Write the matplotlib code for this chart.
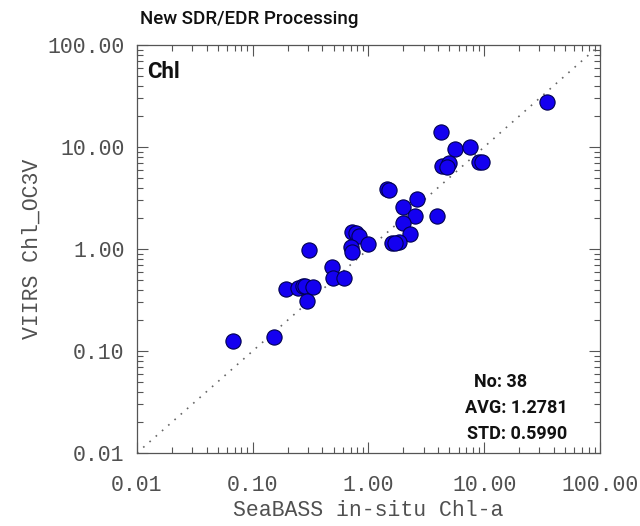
import numpy as np
import matplotlib
matplotlib.use("Agg")
import matplotlib.pyplot as plt
from matplotlib.ticker import LogLocator, FixedLocator, NullFormatter

# ---- data ----
insitu = [0.068, 0.153, 0.194, 0.244, 0.270, 0.282, 0.330, 0.296, 0.308,
          0.486, 0.493, 0.611, 0.716, 0.780, 0.828, 0.707, 0.719, 0.99,
          34.8, 4.23, 5.55, 7.57, 4.32, 4.99, 4.80, 9.1, 9.5,
          1.46, 1.50, 2.61, 1.97, 2.51, 1.97, 3.88, 2.28, 1.83, 1.61, 1.70]
viirs = [0.126, 0.136, 0.403, 0.418, 0.43, 0.437, 0.427, 0.311, 0.978,
         0.662, 0.523, 0.523, 1.46, 1.43, 1.35, 1.04, 0.94, 1.12,
         27.8, 14.0, 9.62, 10.07, 6.51, 7.02, 6.41, 7.18, 7.10,
         3.87, 3.80, 3.09, 2.58, 2.09, 1.81, 2.11, 1.40, 1.16, 1.14, 1.15]

stats = ["No: 38", "AVG: 1.2781", "STD: 0.5990"]
tick_vals = [0.01, 0.1, 1, 10, 100]
tick_labels = ["0.01", "0.10", "1.00", "10.00", "100.00"]

gray = "#505050"
mono = "Liberation Mono"
narrow = ["Roboto"]

fig = plt.figure(figsize=(6.4, 5.26), dpi=100)
ax = fig.add_axes([0.214, 0.1388, 0.7234, 0.7757])

ax.set_xscale("log")
ax.set_yscale("log")
ax.set_xlim(0.01, 100)
ax.set_ylim(0.01, 100)

# 1:1 line
ax.plot([0.01, 100], [0.01, 100], linestyle=(0, (1, 4)), color="#666666", lw=1.2)

ax.scatter(insitu, viirs, s=120, facecolor="#1400f0", edgecolor="#000050",
           linewidth=0.8, zorder=3)

for a in (ax.xaxis, ax.yaxis):
    a.set_major_locator(FixedLocator(tick_vals))
    a.set_minor_locator(LogLocator(base=10, subs=np.arange(2, 10)))
    a.set_minor_formatter(NullFormatter())
ax.set_xticklabels(tick_labels)
ax.set_yticklabels(tick_labels)

ax.tick_params(which="both", direction="in", top=True, right=True,
               color="#555555", width=0.8)
ax.tick_params(which="major", length=8, labelsize=15.5, labelcolor=gray)
ax.tick_params(axis="x", which="major", pad=16)
ax.tick_params(axis="y", which="major", pad=9)
ax.tick_params(which="minor", length=4)
for lab in ax.get_xticklabels() + ax.get_yticklabels():
    lab.set_fontfamily(mono)
for sp in ax.spines.values():
    sp.set_color("#555555")
    sp.set_linewidth(0.9)

ax.set_xlabel("SeaBASS in-situ Chl-a", fontfamily=mono, fontsize=15.5,
              color=gray, labelpad=3)
ax.set_ylabel("VIIRS Chl_OC3V", fontfamily=mono, fontsize=15.5,
              color=gray, labelpad=3)

fig.text(0.218, 0.963, "New SDR/EDR Processing", family=narrow,
         fontsize=13.5, fontweight="medium", color="#111111",
         va="center", ha="left")
ax.text(0.022, 0.96, "Chl", transform=ax.transAxes, family=narrow,
        fontsize=16, fontweight="bold", color="#111111", va="top", ha="left")

ax.text(0.727, 0.175, stats[0], transform=ax.transAxes, family=narrow,
        fontsize=13, fontweight="bold", color="#111111", va="center")
ax.text(0.708, 0.111, stats[1], transform=ax.transAxes, family=narrow,
        fontsize=13, fontweight="bold", color="#111111", va="center")
ax.text(0.712, 0.047, stats[2], transform=ax.transAxes, family=narrow,
        fontsize=13, fontweight="bold", color="#111111", va="center")

fig.savefig("out.png", dpi=100)
